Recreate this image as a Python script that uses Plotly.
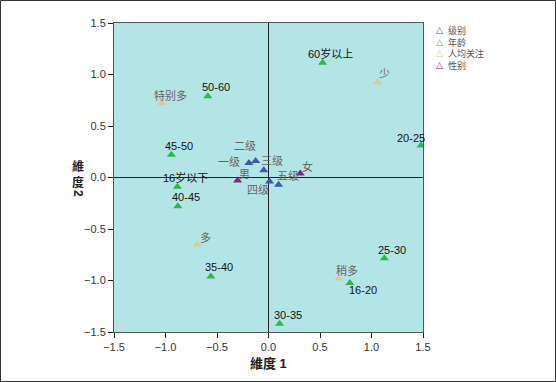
import plotly.graph_objects as go

# ---- data ----
levels = ['一级', '二级', '三级', '四级', '五级']
level_x = [-0.19, -0.125, -0.046, 0.01, 0.098]
level_y = [0.14, 0.16, 0.07, -0.04, -0.07]

ages = ['16岁以下', '16-20', '20-25', '25-30', '30-35', '35-40', '40-45', '45-50', '50-60', '60岁以上']
age_x = [-0.885, 0.79, 1.48, 1.125, 0.108, -0.56, -0.88, -0.943, -0.589, 0.525]
age_y = [-0.09, -1.025, 0.31, -0.785, -1.42, -0.96, -0.28, 0.22, 0.79, 1.115]

attention = ['特别多', '多', '稍多', '少']
att_x = [-1.033, -0.69, 0.68, 1.06]
att_y = [0.72, -0.65, -0.98, 0.925]

gender = ['男', '女']
gen_x = [-0.30, 0.308]
gen_y = [-0.03, 0.04]

group_names = ['级别', '年龄', '人均关注', '性别']
tick_vals = [-1.5, -1.0, -0.5, 0.0, 0.5, 1.0, 1.5]
x_title = '維度 1'
y_title_chars = '維<br>度'
y_title_num = '2'

# ---- styles ----
colors = ['#3E58AC', '#2EB848', '#D3CE97', '#7C287D']
label_colors = ['#666666', '#111111', '#666666', '#666666']
# label offsets in px (dx, dy up) per point
level_off = [(-20, 1), (-11, 15), (8, 9), (-12, -8), (9, 9)]
age_off = [(8, 9), (13, -7), (-10, 8), (8, 8), (8, 9), (8, 9), (8, 9), (8, 9), (8, 9), (8, 9)]
att_off = [(8, 8), (8, 7), (8, 8), (7, 8)]
gen_off = [(7, 7), (7, 7)]

groups = [
    (levels, level_x, level_y, level_off),
    (ages, age_x, age_y, age_off),
    (attention, att_x, att_y, att_off),
    (gender, gen_x, gen_y, gen_off),
]

FONT = 'Liberation Sans, Noto Sans CJK SC, sans-serif'
L, R, T, B = 114, 133, 23, 50
W, H = 556, 382
PW, PH = W - L - R, H - T - B

fig = go.Figure()
annotations = []
for gi, (names, xs, ys, offs) in enumerate(groups):
    fig.add_trace(go.Scatter(
        x=xs, y=ys, mode='markers', name=group_names[gi], showlegend=False,
        marker=dict(symbol='triangle-up', size=8, color=colors[gi], line=dict(width=0)),
        cliponaxis=True, hoverinfo='skip',
    ))
    for n, x, y, (dx, dy) in zip(names, xs, ys, offs):
        annotations.append(dict(
            x=x, y=y, xref='x', yref='y', text=n, showarrow=False,
            xanchor='center', yanchor='middle', xshift=dx, yshift=dy,
            font=dict(family=FONT, size=11, color=label_colors[gi]),
        ))

# legend (manual, compact rows)
sym_text = '<br>'.join(f"<span style='color:{c}'><b>△</b></span>" for c in colors)
lab_text = '<br>'.join(group_names)
legend_top = (H - B - 23) / PH
annotations.append(dict(
    x=(434 - L) / PW, y=legend_top, xref='paper', yref='paper',
    text=sym_text, showarrow=False, xanchor='left', yanchor='top', align='left',
    font=dict(family='DejaVu Sans', size=9, color='#555555'),
))
annotations.append(dict(
    x=(446 - L) / PW, y=legend_top, xref='paper', yref='paper',
    text=lab_text, showarrow=False, xanchor='left', yanchor='top', align='left',
    font=dict(family=FONT, size=9, color='#555555'),
))

# axis titles
annotations.append(dict(
    x=0.5, y=(H - B - 363) / PH, xref='paper', yref='paper', text=f'<b>{x_title}</b>',
    showarrow=False, xanchor='center', yanchor='middle',
    font=dict(family=FONT, size=13, color='#222222'),
))
annotations.append(dict(
    x=(78 - L) / PW, y=(H - B - 174) / PH, xref='paper', yref='paper', text=f'<b>{y_title_chars}</b>',
    showarrow=False, xanchor='center', yanchor='middle',
    font=dict(family=FONT, size=12, color='#222222'),
))
annotations.append(dict(
    x=(78 - L) / PW, y=(H - B - 193) / PH, xref='paper', yref='paper', text=f'<b>{y_title_num}</b>',
    showarrow=False, xanchor='center', yanchor='middle', textangle=90,
    font=dict(family=FONT, size=12, color='#222222'),
))

axis_common = dict(
    range=[-1.5, 1.5], tickvals=tick_vals, tickformat='.1f',
    showgrid=False, zeroline=True, zerolinecolor='#222222', zerolinewidth=1,
    showline=True, linecolor='#555555', linewidth=1, mirror=True,
    ticks='outside', ticklen=5, tickcolor='#222222', tickwidth=1,
    tickfont=dict(family=FONT, size=11, color='#333333'),
    fixedrange=True,
)

fig.update_layout(
    width=W, height=H,
    margin=dict(l=L, r=R, t=T, b=B, autoexpand=False),
    paper_bgcolor='white', plot_bgcolor='#B4E5E6',
    xaxis=axis_common, yaxis=axis_common,
    showlegend=False, hovermode=False,
    annotations=annotations,
    shapes=[dict(
        type='rect', xref='paper', yref='paper',
        x0=(0.5 - L) / PW, x1=(W - 0.5 - L) / PW,
        y0=(H - B - (H - 0.5)) / PH, y1=(H - B - 0.5) / PH,
        line=dict(color='#333333', width=1), layer='above',
    )],
)

fig.write_html('out.html', config={'displayModeBar': False, 'staticPlot': True},
               post_script="document.body.style.margin='0';document.body.style.overflow='hidden';")
